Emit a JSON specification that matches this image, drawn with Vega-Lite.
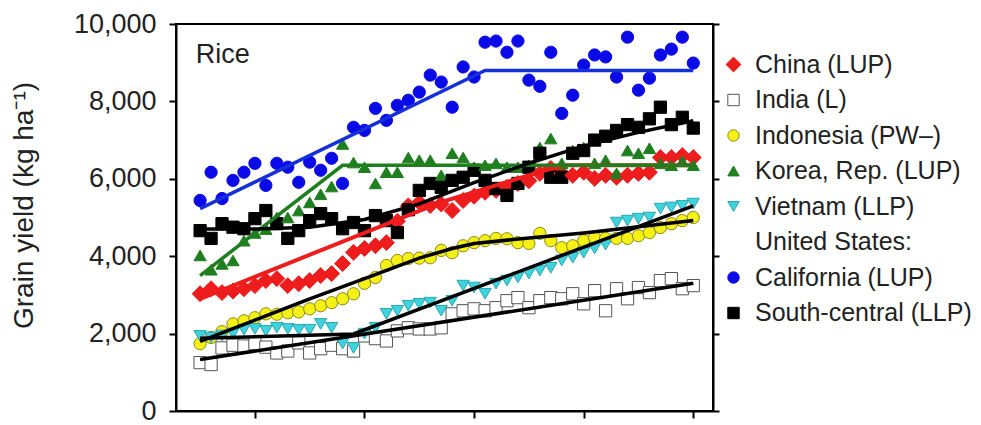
{
  "$schema": "https://vega.github.io/schema/vega-lite/v6.json",
  "width": 537,
  "height": 387,
  "autosize": "none",
  "padding": {"left": 176, "top": 24, "right": 268, "bottom": 14},
  "background": "white",
  "config": {
    "font": "Liberation Sans",
    "view": {"stroke": "black", "strokeWidth": 2},
    "axis": {"domainColor": "black", "domainWidth": 2, "tickColor": "black", "tickWidth": 2, "grid": false, "labelColor": "#222", "titleColor": "#222"}
  },
  "datasets": {
    "obs": [
      {"year":1965,"China":3030,"India":1250,"Indonesia":1740,"Korea":4020,"Vietnam":1940,"California":5440,"SouthCentral":4660},
      {"year":1966,"China":3160,"India":1200,"Indonesia":1900,"Korea":3650,"Vietnam":1900,"California":6170,"SouthCentral":4460},
      {"year":1967,"China":3060,"India":1630,"Indonesia":2050,"Korea":3800,"Vietnam":1950,"California":5490,"SouthCentral":4840},
      {"year":1968,"China":3100,"India":1700,"Indonesia":2250,"Korea":3890,"Vietnam":2000,"California":5960,"SouthCentral":4750},
      {"year":1969,"China":3160,"India":1680,"Indonesia":2330,"Korea":4400,"Vietnam":2100,"California":6170,"SouthCentral":4710},
      {"year":1970,"China":3240,"India":1740,"Indonesia":2410,"Korea":4600,"Vietnam":2120,"California":6400,"SouthCentral":4970},
      {"year":1971,"China":3370,"India":1650,"Indonesia":2510,"Korea":4700,"Vietnam":2070,"California":5830,"SouthCentral":5180},
      {"year":1972,"China":3420,"India":1500,"Indonesia":2500,"Korea":5000,"Vietnam":2150,"California":6400,"SouthCentral":4840},
      {"year":1973,"China":3240,"India":1550,"Indonesia":2540,"Korea":5000,"Vietnam":2120,"California":6300,"SouthCentral":4460},
      {"year":1974,"China":3290,"India":1760,"Indonesia":2560,"Korea":5180,"Vietnam":2100,"California":5910,"SouthCentral":4660},
      {"year":1975,"China":3370,"India":1500,"Indonesia":2640,"Korea":5390,"Vietnam":2100,"California":6430,"SouthCentral":4920},
      {"year":1976,"China":3500,"India":1610,"Indonesia":2720,"Korea":5600,"Vietnam":2250,"California":6220,"SouthCentral":5100},
      {"year":1977,"China":3550,"India":1700,"Indonesia":2800,"Korea":5800,"Vietnam":2150,"California":6530,"SouthCentral":4970},
      {"year":1978,"China":3810,"India":1610,"Indonesia":2900,"Korea":6900,"Vietnam":1740,"California":5880,"SouthCentral":4710},
      {"year":1979,"China":4100,"India":1550,"Indonesia":3030,"Korea":6420,"Vietnam":1630,"California":7330,"SouthCentral":4870},
      {"year":1980,"China":4200,"India":1940,"Indonesia":3300,"Korea":6300,"Vietnam":2000,"California":7250,"SouthCentral":4660},
      {"year":1981,"China":4270,"India":1870,"Indonesia":3450,"Korea":5880,"Vietnam":2150,"California":7820,"SouthCentral":5050},
      {"year":1982,"China":4350,"India":1810,"Indonesia":3760,"Korea":6170,"Vietnam":2510,"California":7510,"SouthCentral":4920},
      {"year":1983,"China":4900,"India":2070,"Indonesia":3890,"Korea":6170,"Vietnam":2590,"California":7900,"SouthCentral":4610},
      {"year":1984,"China":5300,"India":2150,"Indonesia":3940,"Korea":6550,"Vietnam":2720,"California":8030,"SouthCentral":5200},
      {"year":1985,"China":5390,"India":2120,"Indonesia":3950,"Korea":6480,"Vietnam":2770,"California":8240,"SouthCentral":5700},
      {"year":1986,"China":5310,"India":2120,"Indonesia":3960,"Korea":6480,"Vietnam":2800,"California":8680,"SouthCentral":5880},
      {"year":1987,"China":5350,"India":2150,"Indonesia":4150,"Korea":6090,"Vietnam":2590,"California":8500,"SouthCentral":5780},
      {"year":1988,"China":5180,"India":2510,"Indonesia":4090,"Korea":6660,"Vietnam":2850,"California":7850,"SouthCentral":5960},
      {"year":1989,"China":5440,"India":2590,"Indonesia":4270,"Korea":6550,"Vietnam":3240,"California":8890,"SouthCentral":6040},
      {"year":1990,"China":5550,"India":2640,"Indonesia":4350,"Korea":6300,"Vietnam":3190,"California":8630,"SouthCentral":6220},
      {"year":1991,"China":5650,"India":2590,"Indonesia":4400,"Korea":6350,"Vietnam":3030,"California":9530,"SouthCentral":5960},
      {"year":1992,"China":5700,"India":2670,"Indonesia":4460,"Korea":6400,"Vietnam":3290,"California":9560,"SouthCentral":5750},
      {"year":1993,"China":5780,"India":2850,"Indonesia":4450,"Korea":6300,"Vietnam":3370,"California":9270,"SouthCentral":5570},
      {"year":1994,"China":5880,"India":2930,"Indonesia":4350,"Korea":6300,"Vietnam":3450,"California":9560,"SouthCentral":5880},
      {"year":1995,"China":5950,"India":2670,"Indonesia":4330,"Korea":6350,"Vietnam":3550,"California":8550,"SouthCentral":6300},
      {"year":1996,"China":6140,"India":2850,"Indonesia":4590,"Korea":6810,"Vietnam":3630,"California":8390,"SouthCentral":6660},
      {"year":1997,"China":6270,"India":2930,"Indonesia":4400,"Korea":7040,"Vietnam":3700,"California":9270,"SouthCentral":6040},
      {"year":1998,"China":6140,"India":2900,"Indonesia":4220,"Korea":6400,"Vietnam":3890,"California":7690,"SouthCentral":6040},
      {"year":1999,"China":6090,"India":3030,"Indonesia":4270,"Korea":6730,"Vietnam":3960,"California":8160,"SouthCentral":6660},
      {"year":2000,"China":6170,"India":2770,"Indonesia":4400,"Korea":6810,"Vietnam":4090,"California":8940,"SouthCentral":6730},
      {"year":2001,"China":6010,"India":3110,"Indonesia":4480,"Korea":6400,"Vietnam":4200,"California":9200,"SouthCentral":7000},
      {"year":2002,"China":6090,"India":2590,"Indonesia":4460,"Korea":6480,"Vietnam":4300,"California":9150,"SouthCentral":7100},
      {"year":2003,"China":6040,"India":3160,"Indonesia":4460,"Korea":6140,"Vietnam":4870,"California":8630,"SouthCentral":7250},
      {"year":2004,"China":6090,"India":2900,"Indonesia":4460,"Korea":6730,"Vietnam":4920,"California":9660,"SouthCentral":7400},
      {"year":2005,"China":6140,"India":3190,"Indonesia":4530,"Korea":6660,"Vietnam":4970,"California":8290,"SouthCentral":7330},
      {"year":2006,"China":6170,"India":3060,"Indonesia":4610,"Korea":6790,"Vietnam":5000,"California":8600,"SouthCentral":7550},
      {"year":2007,"China":6550,"India":3370,"Indonesia":4740,"Korea":6400,"Vietnam":5230,"California":9200,"SouthCentral":7850},
      {"year":2008,"China":6550,"India":3420,"Indonesia":4840,"Korea":6350,"Vietnam":5260,"California":9350,"SouthCentral":7400},
      {"year":2009,"China":6600,"India":3160,"Indonesia":4920,"Korea":6450,"Vietnam":5300,"California":9660,"SouthCentral":7590},
      {"year":2010,"China":6550,"India":3240,"Indonesia":5000,"Korea":6350,"Vietnam":5360,"California":8990,"SouthCentral":7310}
    ],
    "fits": [
      {"series":"California","year":1965,"fit":5230},
      {"series":"California","year":1991,"fit":8800},
      {"series":"California","year":2010,"fit":8800},
      {"series":"Korea","year":1965,"fit":3500},
      {"series":"Korea","year":1978,"fit":6350},
      {"series":"Korea","year":2010,"fit":6350},
      {"series":"China","year":1965,"fit":2900},
      {"series":"China","year":1987,"fit":5400},
      {"series":"China","year":1998,"fit":6350},
      {"series":"China","year":2010,"fit":6350},
      {"series":"SouthCentral","year":1965,"fit":4700},
      {"series":"SouthCentral","year":1970,"fit":4700},
      {"series":"SouthCentral","year":1975,"fit":4750},
      {"series":"SouthCentral","year":1980,"fit":4950},
      {"series":"SouthCentral","year":1985,"fit":5350},
      {"series":"SouthCentral","year":1990,"fit":5900},
      {"series":"SouthCentral","year":1995,"fit":6400},
      {"series":"SouthCentral","year":2000,"fit":6850},
      {"series":"SouthCentral","year":2005,"fit":7200},
      {"series":"SouthCentral","year":2010,"fit":7500},
      {"series":"Indonesia","year":1965,"fit":1800},
      {"series":"Indonesia","year":1970,"fit":2350},
      {"series":"Indonesia","year":1975,"fit":2900},
      {"series":"Indonesia","year":1980,"fit":3420},
      {"series":"Indonesia","year":1985,"fit":3950},
      {"series":"Indonesia","year":1988,"fit":4200},
      {"series":"Indonesia","year":1990,"fit":4330},
      {"series":"Indonesia","year":1995,"fit":4470},
      {"series":"Indonesia","year":2000,"fit":4600},
      {"series":"Indonesia","year":2005,"fit":4760},
      {"series":"Indonesia","year":2010,"fit":4920},
      {"series":"Vietnam","year":1965,"fit":1880},
      {"series":"Vietnam","year":1979,"fit":1990},
      {"series":"Vietnam","year":2010,"fit":5300},
      {"series":"India","year":1965,"fit":1330},
      {"series":"India","year":2010,"fit":3300}
    ]
  },
  "layer": [
    {
      "data": {"name": "obs"},
      "transform": [{"fold": ["China", "India", "Indonesia", "Korea", "Vietnam", "California", "SouthCentral"], "as": ["series", "yield"]}],
      "mark": {"type": "point", "filled": true, "size": 150, "strokeWidth": 1, "opacity": 1},
      "encoding": {
        "x": {"field": "year", "type": "quantitative", "scale": {"domain": [1962.8, 2011.8], "nice": false, "zero": false}, "axis": {"values": [1970, 1980, 1990, 2000, 2010], "labels": false, "title": null, "tickSize": 7}},
        "y": {"field": "yield", "type": "quantitative", "scale": {"domain": [0, 10000], "nice": false}, "axis": {"orient": "left", "values": [0, 2000, 4000, 6000, 8000, 10000], "format": ",d", "labelFontSize": 27, "tickSize": 7, "labelPadding": 13, "title": "Grain yield (kg ha⁻¹)", "titleFontSize": 28, "titleFontWeight": "normal", "titlePadding": 35, "titleY": 181}},
        "shape": {"field": "series", "type": "nominal",
          "scale": {"domain": ["China", "India", "Indonesia", "Korea", "Vietnam", "US", "California", "SouthCentral"], "range": ["M0,-1.3L1.3,0L0,1.3L-1.3,0Z", "square", "circle", "triangle-up", "triangle-down", "circle", "circle", "square"]},
          "legend": {"title": null, "orient": "none", "legendX": 545, "legendY": 28, "labelFontSize": 25, "labelColor": "#222", "labelLimit": 0, "symbolSize": 130, "rowPadding": 9.5, "labelOffset": 9, "symbolStrokeWidth": 1,
            "labelExpr": "{'China':'China (LUP)','India':'India (L)','Indonesia':'Indonesia (PW–)','Korea':'Korea, Rep. (LUP)','Vietnam':'Vietnam (LLP)','US':'United States:','California':'California (LUP)','SouthCentral':'South-central (LLP)'}[datum.label]"}},
        "fill": {"field": "series", "type": "nominal",
          "scale": {"domain": ["China", "India", "Indonesia", "Korea", "Vietnam", "US", "California", "SouthCentral"], "range": ["#ee1c1c", "#ffffff", "#f5f016", "#1f7f1f", "#3fd3de", "transparent", "#0a0ae8", "#000000"]},
          "legend": {"title": null, "orient": "none", "legendX": 545, "legendY": 28, "labelFontSize": 25, "labelColor": "#222", "labelLimit": 0, "symbolSize": 130, "rowPadding": 9.5, "labelOffset": 9, "symbolStrokeWidth": 1,
            "labelExpr": "{'China':'China (LUP)','India':'India (L)','Indonesia':'Indonesia (PW–)','Korea':'Korea, Rep. (LUP)','Vietnam':'Vietnam (LLP)','US':'United States:','California':'California (LUP)','SouthCentral':'South-central (LLP)'}[datum.label]"}},
        "stroke": {"field": "series", "type": "nominal",
          "scale": {"domain": ["China", "India", "Indonesia", "Korea", "Vietnam", "US", "California", "SouthCentral"], "range": ["#ee1c1c", "#555555", "#8c8c14", "#1f7f1f", "#2aa6b0", "transparent", "#0a0ae8", "#000000"]},
          "legend": {"title": null, "orient": "none", "legendX": 545, "legendY": 28, "labelFontSize": 25, "labelColor": "#222", "labelLimit": 0, "symbolSize": 130, "rowPadding": 9.5, "labelOffset": 9, "symbolStrokeWidth": 1,
            "labelExpr": "{'China':'China (LUP)','India':'India (L)','Indonesia':'Indonesia (PW–)','Korea':'Korea, Rep. (LUP)','Vietnam':'Vietnam (LLP)','US':'United States:','California':'California (LUP)','SouthCentral':'South-central (LLP)'}[datum.label]"}}
      }
    },
    {
      "layer": [
        {
          "data": {"name": "fits"},
          "encoding": {
            "x": {"field": "year", "type": "quantitative", "scale": {"domain": [1962.8, 2011.8], "nice": false, "zero": false}, "axis": {"values": [1970, 1980, 1990, 2000, 2010], "labels": false, "title": null, "tickSize": 7}},
            "y": {"field": "fit", "type": "quantitative", "scale": {"domain": [0, 10000], "nice": false}, "axis": {"orient": "right", "values": [0, 2000, 4000, 6000, 8000, 10000], "labels": false, "title": null, "tickSize": 6}}
          },
          "layer": [
            {"transform": [{"filter": "datum.series === 'California'"}], "mark": {"type": "line", "strokeWidth": 3.5, "color": "#1530d8"}},
            {"transform": [{"filter": "datum.series === 'China'"}], "mark": {"type": "line", "strokeWidth": 4, "color": "#ee1c1c"}},
            {"transform": [{"filter": "datum.series === 'Korea'"}], "mark": {"type": "line", "strokeWidth": 3.5, "color": "#1f7f1f"}},
            {"transform": [{"filter": "indexof(['SouthCentral','Indonesia','Vietnam','India'], datum.series) >= 0"}], "mark": {"type": "line", "strokeWidth": 3.5, "color": "#000000"}, "encoding": {"detail": {"field": "series", "type": "nominal"}}}
          ]
        },
        {
          "data": {"values": [{}]},
          "mark": {"type": "text", "align": "left", "baseline": "alphabetic", "fontSize": 27, "color": "#222"},
          "encoding": {
            "x": {"datum": 1964.6, "type": "quantitative", "scale": {"domain": [1962.8, 2011.8], "nice": false, "zero": false}, "axis": {"values": [1970, 1980, 1990, 2000, 2010], "labels": false, "title": null, "tickSize": 7}},
            "y": {"datum": 9000, "type": "quantitative", "scale": {"domain": [0, 10000], "nice": false}, "axis": {"orient": "right", "values": [0, 2000, 4000, 6000, 8000, 10000], "labels": false, "title": null, "tickSize": 6}},
            "text": {"value": "Rice"}
          }
        }
      ]
    }
  ],
  "resolve": {"axis": {"y": "independent"}}
}
